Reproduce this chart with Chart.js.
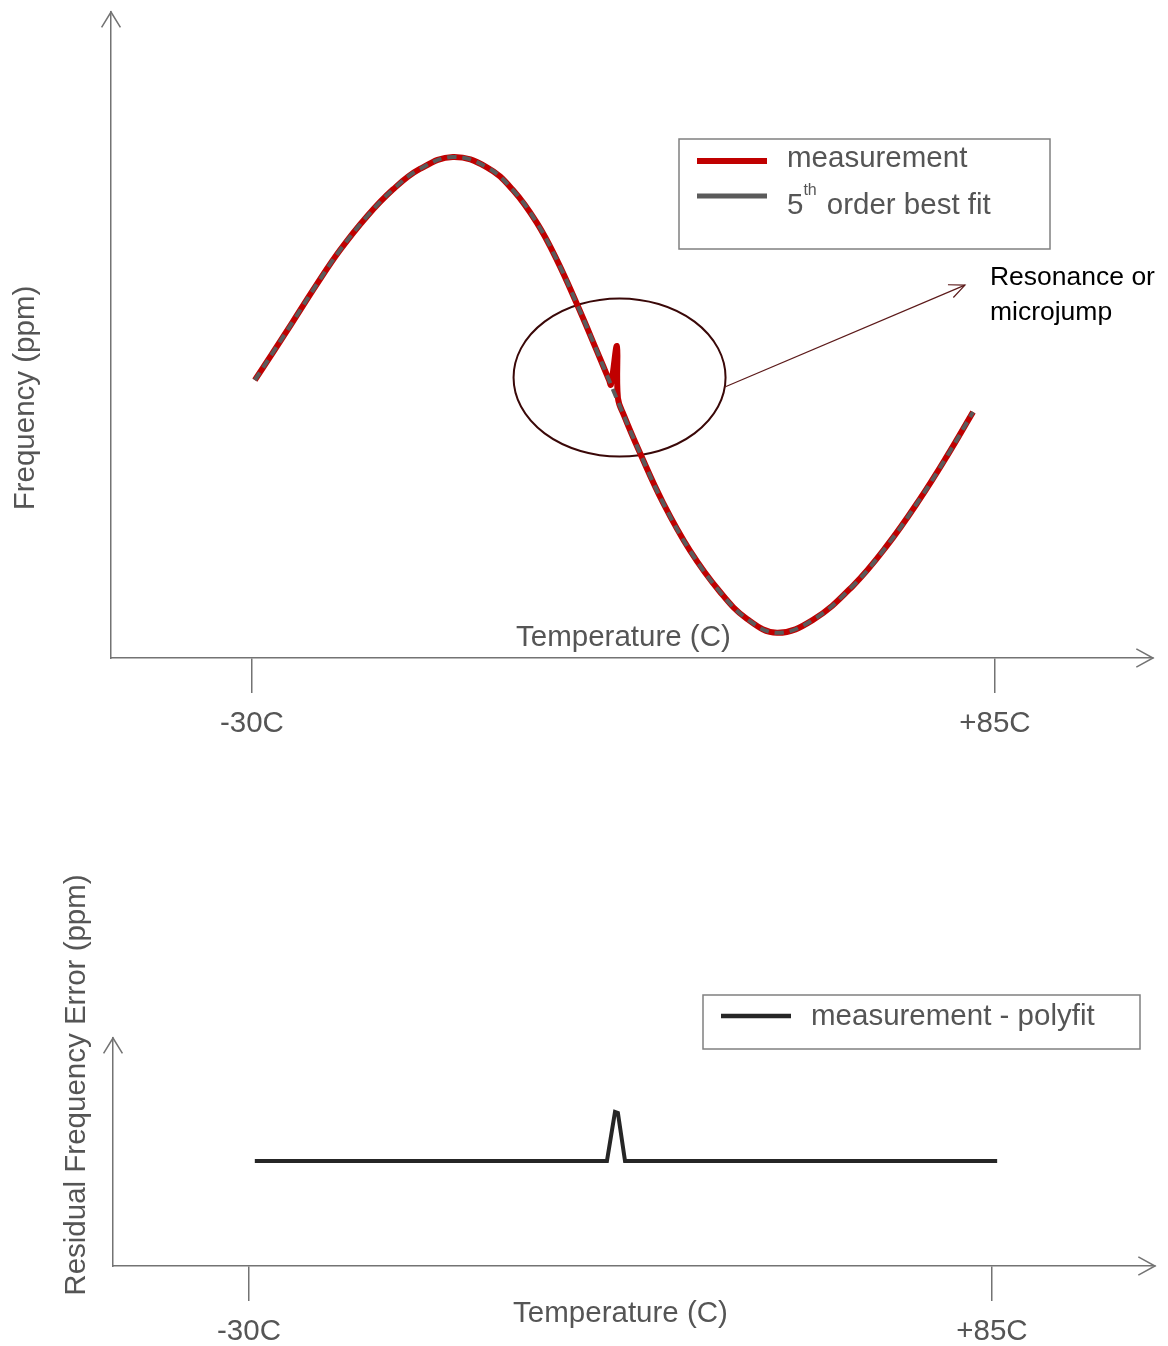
<!DOCTYPE html>
<html>
<head>
<meta charset="utf-8">
<title>Frequency vs Temperature</title>
<script src="https://cdn.jsdelivr.net/npm/chart.js@4.4.0/dist/chart.umd.min.js"></script>
<style>
    body { margin: 0; background: #fff; }
    canvas { display: block; }
</style>
</head>
<body>
<canvas id="freqChart" width="1168" height="760"></canvas>
<canvas id="residualChart" width="1168" height="586"></canvas>
<script>
// tick labels on the temperature axis
const tickValues = [-30, 85];
const tickLabels = ['-30C', '+85C'];

// 5th order best fit (degC / ppm)
const fitTemps = [-29.54, -26.75, -23.65, -19.94, -16.38, -12.2, -8.18, -4.0, 1.11, 6.37, 10.4, 14.11, 17.21, 20.3, 23.4, 25.87, 30.05, 33.61, 37.79, 42.43, 46.61, 51.26, 56.83, 63.02, 68.28, 73.39, 77.57, 81.6];
const fitPpm = [0.58, 1.73, 3.02, 4.58, 5.99, 7.4, 8.52, 9.38, 9.88, 9.45, 8.5, 7.13, 5.58, 3.75, 1.79, 0.19, -2.45, -4.52, -6.52, -8.24, -9.37, -9.95, -9.41, -7.99, -6.32, -4.37, -2.59, -0.75];

// measurement, follows the fit except for the microjump near 26C
const measTemps = [-29.54, -26.75, -23.65, -19.94, -16.38, -12.2, -8.18, -4.0, 1.11, 6.37, 10.4, 14.11, 17.21, 20.3, 23.4, 25.26, 25.56, 26.49, 26.65, 27.58, 30.05, 33.61, 37.79, 42.43, 46.61, 51.26, 56.83, 63.02, 68.28, 73.39, 77.57, 81.6];
const measPpm = [0.58, 1.73, 3.02, 4.58, 5.99, 7.4, 8.52, 9.38, 9.88, 9.45, 8.5, 7.13, 5.58, 3.75, 1.79, 0.59, 0.39, 2.0, -0.17, -0.89, -2.45, -4.52, -6.52, -8.24, -9.37, -9.95, -9.41, -7.99, -6.32, -4.37, -2.59, -0.75];

// measurement - polyfit
const residualTemps = [-29.1, 25.4, 26.65, 27.1, 28.2, 85.8];
const residualPpm = [0, 0, 1.96, 1.92, 0, 0];

const FONT = "'Liberation Sans', Arial, sans-serif";
const AXIS_GREY = '#737373';
const TEXT_GREY = '#555555';
const TEXT_SIZE = 29.5;

Chart.defaults.font.family = FONT;

function toPoints(xs, ys) {
    return xs.map((x, i) => ({ x: x, y: ys[i] }));
}

// open arrow head, tip at (x, y)
function arrowHead(ctx, x, y, angle, len, spread) {
    ctx.beginPath();
    ctx.moveTo(x - len * Math.cos(angle - spread), y - len * Math.sin(angle - spread));
    ctx.lineTo(x, y);
    ctx.lineTo(x - len * Math.cos(angle + spread), y - len * Math.sin(angle + spread));
    ctx.stroke();
}

const axisArrows = {
    id: 'axisArrows',
    afterDraw(chart) {
        const { ctx, chartArea } = chart;
        ctx.save();
        ctx.strokeStyle = AXIS_GREY;
        ctx.lineWidth = 1.5;
        arrowHead(ctx, chartArea.left, chartArea.top, -Math.PI / 2, 18, 0.55);
        arrowHead(ctx, chartArea.right, chartArea.bottom, 0, 19, 0.5);
        ctx.restore();
    }
};

const axisTitles = {
    id: 'axisTitles',
    afterDraw(chart, args, opts) {
        const { ctx, scales } = chart;
        const midX = (scales.x.getPixelForValue(tickValues[0]) + scales.x.getPixelForValue(tickValues[1])) / 2;
        ctx.save();
        ctx.fillStyle = TEXT_GREY;
        ctx.font = TEXT_SIZE + 'px ' + FONT;
        ctx.textAlign = 'center';
        ctx.textBaseline = 'middle';
        ctx.fillText(opts.xText, midX, opts.xTextY);
        ctx.translate(opts.yTextX, opts.yTextY);
        ctx.rotate(-Math.PI / 2);
        ctx.fillText(opts.yText, 0, 0);
        ctx.restore();
    }
};

const boxLegend = {
    id: 'boxLegend',
    afterDraw(chart, args, opts) {
        const ctx = chart.ctx;
        const b = opts.box;
        ctx.save();
        ctx.strokeStyle = '#808080';
        ctx.lineWidth = 1.5;
        ctx.strokeRect(b.x, b.y, b.w, b.h);
        ctx.textBaseline = 'middle';
        ctx.textAlign = 'left';
        opts.items.forEach(item => {
            const ds = chart.data.datasets[item.index];
            ctx.strokeStyle = ds.borderColor;
            ctx.lineWidth = item.width;
            ctx.beginPath();
            ctx.moveTo(b.x + 18, b.y + item.lineY);
            ctx.lineTo(b.x + 88, b.y + item.lineY);
            ctx.stroke();

            ctx.fillStyle = TEXT_GREY;
            ctx.font = TEXT_SIZE + 'px ' + FONT;
            let tx = b.x + 108;
            if (item.order) {
                // "5" with a raised "th"
                ctx.fillText(item.order, tx, b.y + item.textY);
                tx += ctx.measureText(item.order).width;
                ctx.font = '16px ' + FONT;
                ctx.fillText('th', tx, b.y + item.textY - 15);
                tx += ctx.measureText('th').width + 10;
                ctx.font = TEXT_SIZE + 'px ' + FONT;
            }
            ctx.fillText(item.text, tx, b.y + item.textY);
        });
        ctx.restore();
    }
};

// circle round the microjump with a pointer and note
const microjumpNote = {
    id: 'microjumpNote',
    beforeDatasetsDraw(chart, args, opts) {
        const { ctx, scales } = chart;
        const cx = scales.x.getPixelForValue(opts.center[0]);
        const cy = scales.y.getPixelForValue(opts.center[1]);
        const ex = scales.x.getPixelForValue(opts.target[0]);
        const ey = scales.y.getPixelForValue(opts.target[1]);
        const sx = cx + opts.rx * Math.cos(0.12);
        const sy = cy + opts.ry * Math.sin(0.12);
        ctx.save();
        ctx.strokeStyle = '#3a0808';
        ctx.lineWidth = 2;
        ctx.beginPath();
        ctx.ellipse(cx, cy, opts.rx, opts.ry, 0, 0, 2 * Math.PI);
        ctx.stroke();

        ctx.strokeStyle = '#5c1a1a';
        ctx.lineWidth = 1.2;
        ctx.beginPath();
        ctx.moveTo(sx, sy);
        ctx.lineTo(ex, ey);
        ctx.stroke();
        arrowHead(ctx, ex, ey, Math.atan2(ey - sy, ex - sx), 17, 0.42);

        ctx.fillStyle = '#000';
        ctx.font = '26.5px ' + FONT;
        ctx.textAlign = 'left';
        ctx.textBaseline = 'middle';
        opts.lines.forEach((t, i) => ctx.fillText(t, ex + 25, ey - 7 + i * 35));
        ctx.restore();
    }
};

function tempAxis(min, max, height, padding) {
    return {
        type: 'linear',
        min: min,
        max: max,
        afterFit: scale => { scale.height = height },
        afterBuildTicks: scale => { scale.ticks = tickValues.map(v => ({ value: v })) },
        ticks: {
            autoSkip: false,
            maxRotation: 0,
            padding: padding,
            color: TEXT_GREY,
            font: { size: TEXT_SIZE },
            callback: value => tickLabels[tickValues.indexOf(value)]
        },
        grid: { drawOnChartArea: false, drawTicks: true, tickLength: 35, color: AXIS_GREY, lineWidth: 1.5 },
        border: { display: true, color: AXIS_GREY, width: 1.5 }
    };
}

function ppmAxis(min, max, width) {
    return {
        type: 'linear',
        min: min,
        max: max,
        afterFit: scale => { scale.width = width },
        ticks: { display: false },
        grid: { display: false },
        border: { display: true, color: AXIS_GREY, width: 1.5 }
    };
}

const freqChart = document.getElementById('freqChart').getContext('2d');
const freqChartObj = new Chart(freqChart, {
    type: 'line',
    data: {
        datasets: [{
            label: 'measurement',
            data: toPoints(measTemps, measPpm),
            borderColor: '#c00000',
            borderWidth: 6,
            pointRadius: 0,
            tension: 0.4,
            order: 2
        }, {
            label: '5th order best fit',
            data: toPoints(fitTemps, fitPpm),
            borderColor: '#5a5a5a',
            borderWidth: 4,
            borderDash: [9, 6],
            pointRadius: 0,
            tension: 0.4,
            order: 1
        }]
    },
    options: {
        responsive: false,
        animation: false,
        devicePixelRatio: 1,
        layout: { padding: { left: 0, top: 12, right: 15, bottom: 0 } },
        scales: {
            x: tempAxis(-51.8, 109.45, 102, 13),
            y: ppmAxis(-11, 15.92, 111)
        },
        plugins: {
            legend: { display: false },
            tooltip: { enabled: false },
            axisTitles: { xText: 'Temperature (C)', xTextY: 638, yText: 'Frequency (ppm)', yTextX: 26, yTextY: 398 },
            boxLegend: {
                box: { x: 679, y: 139, w: 371, h: 110 },
                items: [
                    { index: 0, width: 6, lineY: 22, textY: 20, text: 'measurement' },
                    { index: 1, width: 5, lineY: 57, textY: 67, order: '5', text: 'order best fit' }
                ]
            },
            microjumpNote: { center: [26.9, 0.69], rx: 106, ry: 79, target: [80.35, 4.54], lines: ['Resonance or', 'microjump'] }
        }
    },
    plugins: [axisArrows, axisTitles, boxLegend, microjumpNote]
});

const residualChart = document.getElementById('residualChart').getContext('2d');
const residualChartObj = new Chart(residualChart, {
    type: 'line',
    data: {
        datasets: [{
            label: 'measurement - polyfit',
            data: toPoints(residualTemps, residualPpm),
            borderColor: '#262626',
            borderWidth: 4,
            pointRadius: 0,
            tension: 0
        }]
    },
    options: {
        responsive: false,
        animation: false,
        devicePixelRatio: 1,
        layout: { padding: { left: 0, top: 278, right: 13, bottom: 0 } },
        scales: {
            x: tempAxis(-51.05, 110.23, 80, 13),
            y: ppmAxis(-4.2, 4.92, 113)
        },
        plugins: {
            legend: { display: false },
            tooltip: { enabled: false },
            axisTitles: { xText: 'Temperature (C)', xTextY: 554, yText: 'Residual Frequency Error (ppm)', yTextX: 77, yTextY: 325 },
            boxLegend: {
                box: { x: 703, y: 235, w: 437, h: 54 },
                items: [
                    { index: 0, width: 4.5, lineY: 21, textY: 22, text: 'measurement - polyfit' }
                ]
            }
        }
    },
    plugins: [axisArrows, axisTitles, boxLegend]
});
</script>
</body>
</html>
